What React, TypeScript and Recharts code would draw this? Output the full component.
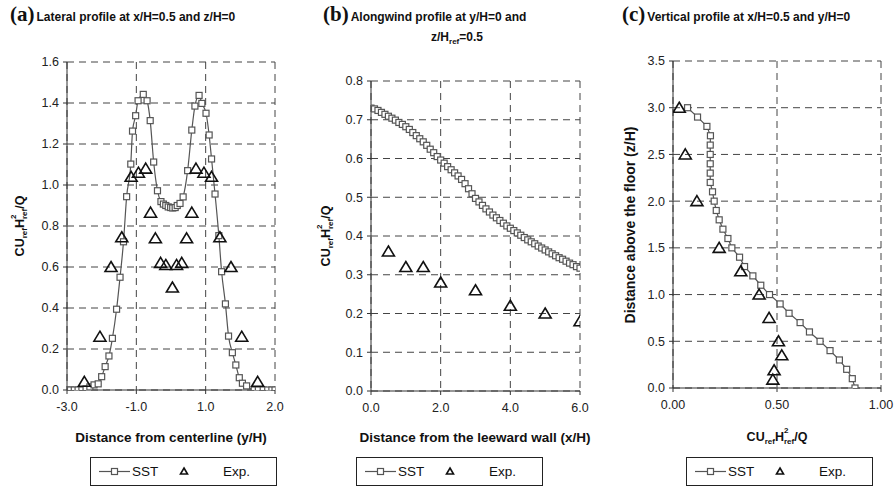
import React from 'react';
import { ScatterChart, Scatter, XAxis, YAxis, CartesianGrid } from 'recharts';

const FONT = 'Arial, "Liberation Sans", Helvetica, sans-serif';
const SERIF = '"Times New Roman", "Liberation Serif", serif';

// (a) lateral profile
const latSstX = [-3.0, -2.9, -2.79, -2.68, -2.57, -2.45, -2.34, -2.22, -2.1, -2.0, -1.9, -1.79, -1.69, -1.57, -1.47, -1.37, -1.28, -1.16, -1.11, -1.02, -0.95, -0.8, -0.69, -0.6, -0.5, -0.39, -0.29, -0.22, -0.15, -0.08, -0.01, 0.05, 0.12, 0.18, 0.26, 0.35, 0.48, 0.6, 0.69, 0.81, 0.89, 1.01, 1.1, 1.17, 1.27, 1.38, 1.46, 1.57, 1.66, 1.77, 1.87, 1.97, 2.06, 2.18, 2.4, 2.52, 2.66, 2.79, 2.91, 3.0];
const latSstY = [0, 0, 0, 0, 0, 0.005, 0.015, 0.025, 0.03, 0.065, 0.114, 0.166, 0.252, 0.394, 0.55, 0.723, 0.943, 1.102, 1.263, 1.338, 1.411, 1.442, 1.411, 1.314, 1.112, 0.972, 0.919, 0.907, 0.9, 0.893, 0.89, 0.888, 0.89, 0.9, 0.91, 0.942, 1.07, 1.268, 1.385, 1.437, 1.398, 1.35, 1.244, 1.127, 0.956, 0.753, 0.577, 0.42, 0.263, 0.182, 0.122, 0.06, 0.033, 0.02, 0, 0, 0, 0, 0, 0];
const latExpX = [-2.5, -2.05, -1.73, -1.42, -1.15, -0.94, -0.73, -0.59, -0.45, -0.3, -0.15, 0.04, 0.16, 0.31, 0.45, 0.6, 0.72, 0.95, 1.17, 1.41, 1.73, 2.04, 2.5];
const latExpY = [0.04, 0.26, 0.6, 0.745, 1.04, 1.06, 1.08, 0.865, 0.74, 0.62, 0.61, 0.5, 0.61, 0.62, 0.74, 0.865, 1.08, 1.06, 1.04, 0.745, 0.6, 0.26, 0.04];
const latXTicks = [-3, -1, 1, 3];
const latXLabels = ['-3.0', '-1.0', '1.0', '2.0'];
const latYTicks = [0, 0.2, 0.4, 0.6, 0.8, 1.0, 1.2, 1.4, 1.6];

// (b) alongwind profile
const alongSstX = [0, 0.1, 0.2, 0.3, 0.4, 0.5, 0.6, 0.7, 0.8, 0.9, 1.0, 1.1, 1.2, 1.3, 1.4, 1.5, 1.6, 1.7, 1.8, 1.9, 2.0, 2.1, 2.2, 2.3, 2.4, 2.5, 2.6, 2.7, 2.8, 2.9, 3.0, 3.1, 3.2, 3.3, 3.4, 3.5, 3.6, 3.7, 3.8, 3.9, 4.0, 4.1, 4.2, 4.3, 4.4, 4.5, 4.6, 4.7, 4.8, 4.9, 5.0, 5.1, 5.2, 5.3, 5.4, 5.5, 5.6, 5.7, 5.8, 5.9, 6.0];
const alongSstY = [0.73, 0.728, 0.724, 0.719, 0.714, 0.709, 0.704, 0.699, 0.693, 0.688, 0.682, 0.675, 0.667, 0.659, 0.651, 0.643, 0.634, 0.624, 0.615, 0.605, 0.596, 0.588, 0.579, 0.571, 0.563, 0.555, 0.546, 0.535, 0.522, 0.509, 0.497, 0.488, 0.479, 0.47, 0.462, 0.454, 0.447, 0.44, 0.433, 0.426, 0.42, 0.414, 0.408, 0.402, 0.396, 0.39, 0.385, 0.38, 0.374, 0.369, 0.364, 0.359, 0.354, 0.349, 0.344, 0.34, 0.335, 0.33, 0.326, 0.321, 0.317];
const alongExpX = [0.5, 1, 1.5, 2, 3, 4, 5, 6];
const alongExpY = [0.36, 0.32, 0.32, 0.28, 0.26, 0.22, 0.2, 0.18];
const alongXTicks = [0, 2, 4, 6];
const alongYTicks = [0, 0.1, 0.2, 0.3, 0.4, 0.5, 0.6, 0.7, 0.8];

// (c) vertical profile
const vertSstZ = [0, 0.1, 0.2, 0.3, 0.4, 0.5, 0.6, 0.7, 0.8, 0.9, 1.0, 1.1, 1.2, 1.3, 1.4, 1.5, 1.6, 1.7, 1.8, 1.9, 2.0, 2.1, 2.2, 2.3, 2.4, 2.5, 2.6, 2.7, 2.8, 2.9, 3.0];
const vertSstC = [0.875, 0.862, 0.835, 0.8, 0.755, 0.707, 0.656, 0.611, 0.558, 0.515, 0.464, 0.422, 0.384, 0.344, 0.32, 0.283, 0.264, 0.24, 0.222, 0.208, 0.198, 0.19, 0.179, 0.179, 0.179, 0.179, 0.179, 0.18, 0.163, 0.118, 0.07];
const vertExpZ = [3.0, 2.5, 2.0, 1.5, 1.25, 1.0, 0.75, 0.5, 0.35, 0.19, 0.09];
const vertExpC = [0.03, 0.059, 0.115, 0.222, 0.326, 0.414, 0.462, 0.507, 0.523, 0.486, 0.48];
const vertXTicks = [0, 0.5, 1];
const vertYTicks = [0, 0.5, 1.0, 1.5, 2.0, 2.5, 3.0, 3.5];

const pairs = (xs: number[], ys: number[]) => xs.map((x, i) => ({ x, y: ys[i] }));

const squareShape = (p: any) => (
  <rect x={p.cx - 3} y={p.cy - 3} width={6} height={6} fill="#fff" stroke="#555" strokeWidth={1.2} />
);
const triangleShape = (p: any) => (
  <path
    d={`M${p.cx},${p.cy - 5.5}L${p.cx + 6},${p.cy + 4.5}L${p.cx - 6},${p.cy + 4.5}Z`}
    fill="none"
    stroke="#111"
    strokeWidth={1.6}
  />
);

function Conc({ size = 12 }: { size?: number }) {
  const s = Math.round(size * 0.62);
  const sm = { fontSize: s, position: 'relative' as const, top: 3 };
  return (
    <span style={{ fontSize: size }}>
      CU<span style={sm}>ref</span>H
      <span style={{ position: 'relative', display: 'inline-block' }}>
        <span style={{ position: 'absolute', left: 0, top: -4, fontSize: s }}>2</span>
        <span style={sm}>ref</span>
      </span>
      /Q
    </span>
  );
}

type PanelProps = {
  left: number;
  width: number;
  plot: { l: number; r: number; t: number; b: number };
  xDomain: [number, number];
  xTicks: number[];
  xFmt: (v: number) => string;
  yDomain: [number, number];
  yTicks: number[];
  yFmt: (v: number) => string;
  sst: { x: number; y: number }[];
  exp: { x: number; y: number }[];
  joint: any;
};

function Panel(p: PanelProps) {
  const H = 493;
  const yW = 40;
  const xH = 30;
  const tick = { fill: '#222', fontSize: 12.5, fontFamily: FONT };
  return (
    <div style={{ position: 'absolute', left: p.left, top: 0 }}>
      <ScatterChart
        width={p.width}
        height={H}
        margin={{ top: p.plot.t, left: p.plot.l - p.left - yW, right: p.left + p.width - p.plot.r, bottom: H - p.plot.b - xH }}
      >
        <CartesianGrid stroke="#444" strokeDasharray="7 5" strokeWidth={1} />
        <XAxis
          type="number"
          dataKey="x"
          domain={p.xDomain}
          ticks={p.xTicks}
          tickFormatter={p.xFmt}
          height={xH}
          tick={tick}
          tickSize={4}
          tickMargin={8}
          stroke="#333"
          allowDataOverflow
        />
        <YAxis
          type="number"
          dataKey="y"
          domain={p.yDomain}
          ticks={p.yTicks}
          tickFormatter={p.yFmt}
          width={yW}
          tick={tick}
          tickSize={4}
          tickMargin={4}
          stroke="#333"
          allowDataOverflow
        />
        <Scatter
          data={p.sst}
          line={{ stroke: '#555', strokeWidth: 1.2 }}
          lineJointType={p.joint}
          shape={squareShape}
          isAnimationActive={false}
        />
        <Scatter data={p.exp} shape={triangleShape} isAnimationActive={false} />
      </ScatterChart>
    </div>
  );
}

function Title({ left, top, letter, children }: { left: number; top: number; letter: string; children: React.ReactNode }) {
  return (
    <div style={{ position: 'absolute', left, top, display: 'flex', alignItems: 'baseline', whiteSpace: 'nowrap' }}>
      <span style={{ fontFamily: SERIF, fontWeight: 'bold', fontSize: 21, marginRight: 2 }}>({letter})</span>
      <span style={{ fontFamily: FONT, fontWeight: 'bold', fontSize: 12 }}>{children}</span>
    </div>
  );
}

function YLabel({ x, y, size, children }: { x: number; y: number; size: number; children: React.ReactNode }) {
  return (
    <div
      style={{
        position: 'absolute', left: x, top: y, transform: 'translate(-50%, -50%) rotate(-90deg)',
        fontFamily: FONT, fontWeight: 'bold', fontSize: size, whiteSpace: 'nowrap',
      }}
    >
      {children}
    </div>
  );
}

function XLabel({ x, y, size, children }: { x: number; y: number; size: number; children: React.ReactNode }) {
  return (
    <div
      style={{
        position: 'absolute', left: x, top: y, transform: 'translate(-50%, -50%)',
        fontFamily: FONT, fontWeight: 'bold', fontSize: size, whiteSpace: 'nowrap',
      }}
    >
      {children}
    </div>
  );
}

function LegendBox({ left }: { left: number }) {
  return (
    <div
      style={{
        position: 'absolute', left, top: 457, width: 187, height: 29, border: '1px solid #222',
        boxSizing: 'border-box',
      }}
    >
      <svg width={187} height={29} style={{ position: 'absolute', left: -1, top: -1 }}>
        <line x1={9} x2={40} y1={14.5} y2={14.5} stroke="#555" strokeWidth={1.2} />
        <rect x={21.5} y={11.5} width={6} height={6} fill="#fff" stroke="#555" strokeWidth={1.2} />
        <path d="M94,11L97.5,17L90.5,17Z" fill="none" stroke="#111" strokeWidth={1.6} />
        <text x={42} y={19} fontFamily={FONT} fontSize={13.5} fill="#111">SST</text>
        <text x={133} y={19} fontFamily={FONT} fontSize={13.5} fill="#111">Exp.</text>
      </svg>
    </div>
  );
}

export default function App() {
  const f1 = (v: number) => v.toFixed(1);
  const f2 = (v: number) => v.toFixed(2);
  const latFmt = (v: number) => latXLabels[latXTicks.indexOf(v)] ?? f1(v);
  return (
    <div style={{ position: 'absolute', left: 0, top: 0, width: 896, height: 493, background: '#fff', overflow: 'hidden', color: '#111' }}>
      <Panel
        left={0}
        width={300}
        plot={{ l: 67, r: 275, t: 62, b: 390 }}
        xDomain={[-3, 3]}
        xTicks={latXTicks}
        xFmt={latFmt}
        yDomain={[0, 1.6]}
        yTicks={latYTicks}
        yFmt={f1}
        sst={pairs(latSstX, latSstY)}
        exp={pairs(latExpX, latExpY)}
        joint="monotoneX"
      />
      <Panel
        left={300}
        width={300}
        plot={{ l: 371, r: 580, t: 81, b: 391 }}
        xDomain={[0, 6]}
        xTicks={alongXTicks}
        xFmt={f1}
        yDomain={[0, 0.8]}
        yTicks={alongYTicks}
        yFmt={f1}
        sst={pairs(alongSstX, alongSstY)}
        exp={pairs(alongExpX, alongExpY)}
        joint="linear"
      />
      <Panel
        left={600}
        width={296}
        plot={{ l: 673, r: 881, t: 61, b: 388 }}
        xDomain={[0, 1]}
        xTicks={vertXTicks}
        xFmt={f2}
        yDomain={[0, 3.5]}
        yTicks={vertYTicks}
        yFmt={f1}
        sst={pairs(vertSstC, vertSstZ)}
        exp={pairs(vertExpC, vertExpZ)}
        joint="linear"
      />

      <Title left={10} top={2} letter="a">Lateral profile at x/H=0.5 and z/H=0</Title>
      <Title left={323} top={2} letter="b">Alongwind profile at y/H=0 and</Title>
      <div style={{ position: 'absolute', left: 457, top: 37, transform: 'translate(-50%, -50%)', fontFamily: FONT, fontWeight: 'bold', fontSize: 12, whiteSpace: 'nowrap' }}>
        z/H<span style={{ fontSize: 8, position: 'relative', top: 3 }}>ref</span>=0.5
      </div>
      <Title left={622} top={2} letter="c">Vertical profile at x/H=0.5 and y/H=0</Title>

      <YLabel x={20} y={226} size={12}><Conc size={12.5} /></YLabel>
      <YLabel x={326} y={236} size={12}><Conc size={12.5} /></YLabel>
      <YLabel x={630} y={225} size={14}>Distance above the floor (z/H)</YLabel>

      <XLabel x={171} y={437} size={13.5}>Distance from centerline (y/H)</XLabel>
      <XLabel x={475} y={437} size={13.5}>Distance from the leeward wall (x/H)</XLabel>
      <XLabel x={777} y={437} size={12}><Conc size={12.5} /></XLabel>

      <LegendBox left={90} />
      <LegendBox left={356} />
      <LegendBox left={686} />
    </div>
  );
}
